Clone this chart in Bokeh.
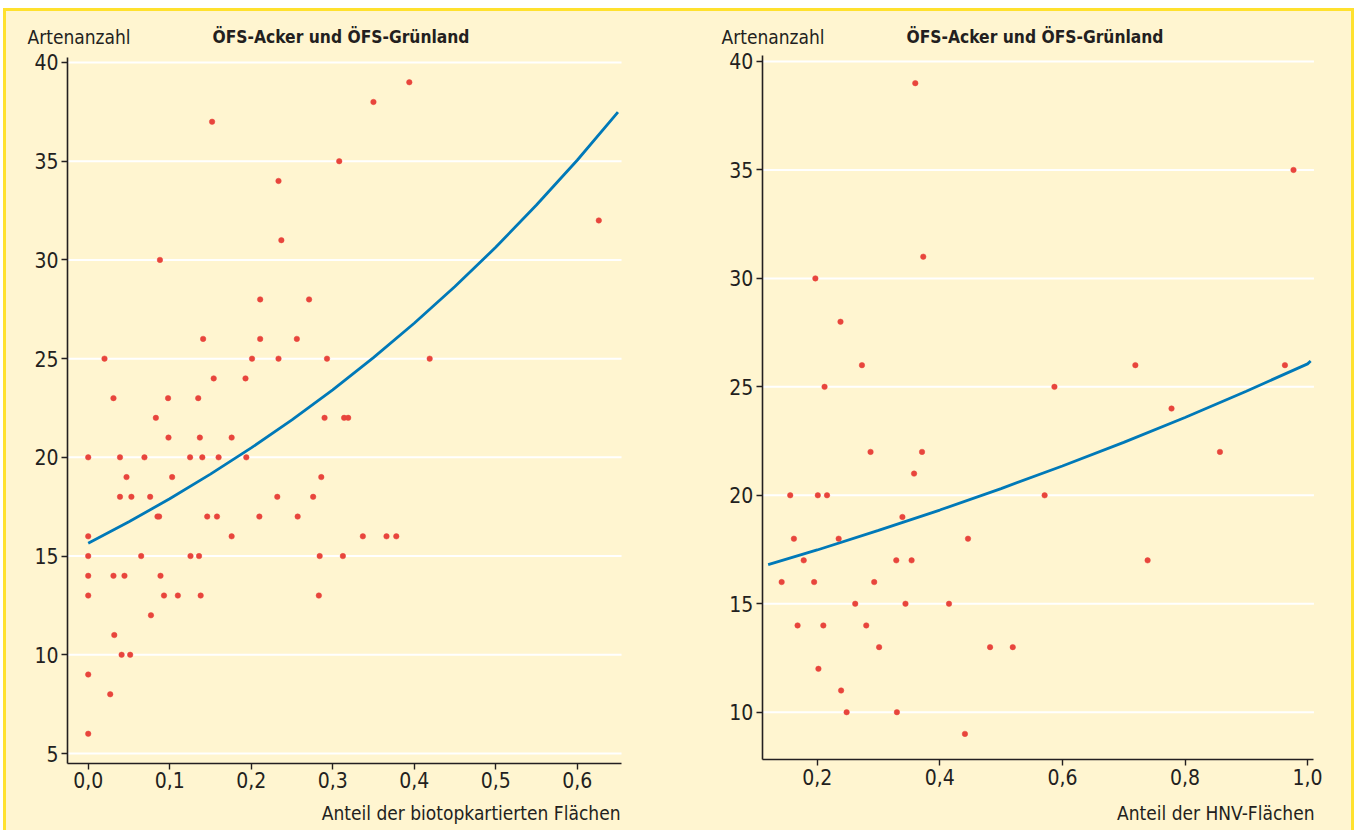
from bokeh.plotting import figure
from bokeh.layouts import row
from bokeh.models import Label, FixedTicker, Range1d
from bokeh.embed import file_html
from bokeh.resources import INLINE

# ---------------- data ----------------
title_text = "ÖFS-Acker und ÖFS-Grünland"
y_title = "Artenanzahl"
left_x_title = "Anteil der biotopkartierten Flächen"
right_x_title = "Anteil der HNV-Flächen"

left_x = [0.394, 0.350, 0.152, 0.308, 0.2335, 0.6265, 0.237, 0.088,
          0.211, 0.271, 0.141, 0.211, 0.256,
          0.020, 0.201, 0.2335, 0.293, 0.419,
          0.154, 0.193, 0.031, 0.098, 0.135,
          0.083, 0.290, 0.314, 0.319,
          0.0985, 0.137, 0.176,
          0.0, 0.039, 0.069, 0.125, 0.140, 0.160, 0.194,
          0.047, 0.103, 0.286,
          0.039, 0.053, 0.076, 0.232, 0.276,
          0.085, 0.087, 0.146, 0.158, 0.210, 0.257,
          0.0, 0.176, 0.337, 0.366, 0.378,
          0.0, 0.065, 0.1255, 0.136, 0.284, 0.3125,
          0.0, 0.031, 0.0445, 0.0887,
          0.0, 0.093, 0.110, 0.138, 0.283,
          0.077, 0.032, 0.041, 0.0515, 0.0, 0.027, 0.0]
left_y = [39, 38, 37, 35, 34, 32, 31, 30,
          28, 28, 26, 26, 26,
          25, 25, 25, 25, 25,
          24, 24, 23, 23, 23,
          22, 22, 22, 22,
          21, 21, 21,
          20, 20, 20, 20, 20, 20, 20,
          19, 19, 19,
          18, 18, 18, 18, 18,
          17, 17, 17, 17, 17, 17,
          16, 16, 16, 16, 16,
          15, 15, 15, 15, 15, 15,
          14, 14, 14, 14,
          13, 13, 13, 13, 13,
          12, 11, 10, 10, 9, 8, 6]

left_fit_x = [0.0, 0.05, 0.10, 0.15, 0.20, 0.25, 0.30, 0.35, 0.40, 0.45, 0.50, 0.55, 0.60, 0.65]
left_fit_y = [15.65, 16.74, 17.90, 19.15, 20.48, 21.90, 23.42, 25.05, 26.79, 28.65, 30.64, 32.78, 35.05, 37.49]

right_x = [0.360, 0.977, 0.373, 0.197, 0.238,
           0.273, 0.719, 0.963, 0.212, 0.587, 0.778,
           0.287, 0.371, 0.857, 0.358,
           0.156, 0.201, 0.216, 0.571, 0.339,
           0.162, 0.235, 0.446,
           0.178, 0.329, 0.354, 0.739,
           0.142, 0.195, 0.293,
           0.262, 0.344, 0.415,
           0.168, 0.210, 0.280,
           0.301, 0.482, 0.519,
           0.202, 0.239, 0.248, 0.330, 0.441]
right_y = [39, 35, 31, 30, 28,
           26, 26, 26, 25, 25, 24,
           22, 22, 22, 21,
           20, 20, 20, 20, 19,
           18, 18, 18,
           17, 17, 17, 17,
           16, 16, 16,
           15, 15, 15,
           14, 14, 14,
           13, 13, 13,
           12, 11, 10, 10, 9]

right_fit_x = [0.12, 0.2, 0.3, 0.4, 0.5, 0.6, 0.7, 0.8, 0.9, 1.0, 1.005]
right_fit_y = [16.80, 17.48, 18.38, 19.32, 20.31, 21.35, 22.44, 23.59, 24.80, 26.06, 26.19]

left_xticks = [0.0, 0.1, 0.2, 0.3, 0.4, 0.5, 0.6]
left_xtick_labels = ["0,0", "0,1", "0,2", "0,3", "0,4", "0,5", "0,6"]
left_yticks = [5, 10, 15, 20, 25, 30, 35, 40]
right_xticks = [0.2, 0.4, 0.6, 0.8, 1.0]
right_xtick_labels = ["0,2", "0,4", "0,6", "0,8", "1,0"]
right_yticks = [10, 15, 20, 25, 30, 35, 40]

# ---------------- style ----------------
CREAM = "#fff5d0"
GOLD = "#ffe12e"
INK = "#231f20"
RED = "#e8453c"
BLUE = "#0079b8"
FONT = "DejaVu Sans Condensed"
FS_TICK = "21px"
FS_TEXT = "19px"
FS_TITLE = "17.3px"


def make_panel(xs, ys, fx, fy, view_x, view_y, axis_x, axis_y,
               xticks, xlabels, yticks, xtitle, width, height,
               ylab_x, title_x, xtitle_x, top_y, bottom_y):
    # the frame covers the whole canvas; axes are pinned at fixed data locations
    p = figure(width=width, height=height,
               x_range=Range1d(*view_x), y_range=Range1d(*view_y),
               output_backend="svg", toolbar_location=None, min_border=0,
               background_fill_color=CREAM, border_fill_color=CREAM,
               outline_line_color=None)
    p.xgrid.visible = False
    p.ygrid.visible = False

    # horizontal white grid lines, limited to the axis extent
    n = len(yticks)
    p.segment(x0=[axis_x[0]] * n, y0=yticks, x1=[axis_x[1]] * n, y1=yticks,
              line_color="white", line_width=2)

    p.xaxis.ticker = FixedTicker(ticks=xticks)
    p.xaxis.major_label_overrides = dict(zip(xticks, xlabels))
    p.yaxis.ticker = FixedTicker(ticks=yticks)
    p.xaxis.fixed_location = axis_y[0]
    p.xaxis.bounds = axis_x
    p.yaxis.fixed_location = axis_x[0]
    p.yaxis.bounds = axis_y
    for ax in (p.xaxis, p.yaxis):
        ax.axis_line_color = INK
        ax.axis_line_width = 1.6
        ax.major_tick_line_color = INK
        ax.major_tick_line_width = 1.4
        ax.major_tick_out = 6
        ax.major_tick_in = 0
        ax.minor_tick_line_color = None
        ax.major_label_text_font = FONT
        ax.major_label_text_font_size = FS_TICK
        ax.major_label_text_color = INK
        ax.major_label_standoff = 3

    p.line(fx, fy, line_color=BLUE, line_width=2.8)
    p.scatter(xs, ys, size=5.5, fill_color=RED, line_color=RED, line_width=0.5)

    p.add_layout(Label(x=ylab_x, y=top_y, x_units="screen", y_units="screen",
                       text=y_title, text_font=FONT, text_font_size=FS_TEXT,
                       text_color=INK, text_baseline="middle", text_align="left"))
    p.add_layout(Label(x=title_x, y=top_y, x_units="screen", y_units="screen",
                       text=title_text, text_font=FONT, text_font_size=FS_TITLE,
                       text_font_style="bold", text_color=INK,
                       text_baseline="middle", text_align="left"))
    p.add_layout(Label(x=xtitle_x, y=bottom_y, x_units="screen", y_units="screen",
                       text=xtitle, text_font=FONT, text_font_size=FS_TEXT,
                       text_color=INK, text_baseline="middle", text_align="right"))
    return p


p1 = make_panel(left_x, left_y, left_fit_x, left_fit_y,
                (-0.10025, 0.72675), (1.100, 42.583),
                (-0.0254, 0.6544), (4.494, 40.253),
                left_xticks, left_xtick_labels, left_yticks, left_x_title,
                674, 819, 21, 206, 614, 794, 18)
p2 = make_panel(right_x, right_y, right_fit_x, right_fit_y,
                (-0.0230, 1.0716), (4.546, 42.305),
                (0.1103, 1.0103), (7.8, 40.28),
                right_xticks, right_xtick_labels, right_yticks, right_x_title,
                671, 819, 41, 226, 634, 794, 18)

layout = row(p1, p2, styles={"margin-top": "8px", "margin-left": "3px",
                             "border-top": "3px solid " + GOLD,
                             "border-left": "3px solid " + GOLD,
                             "border-right": "3px solid " + GOLD,
                             "background-color": CREAM})

open("out.html", "w").write(file_html(layout, INLINE))
